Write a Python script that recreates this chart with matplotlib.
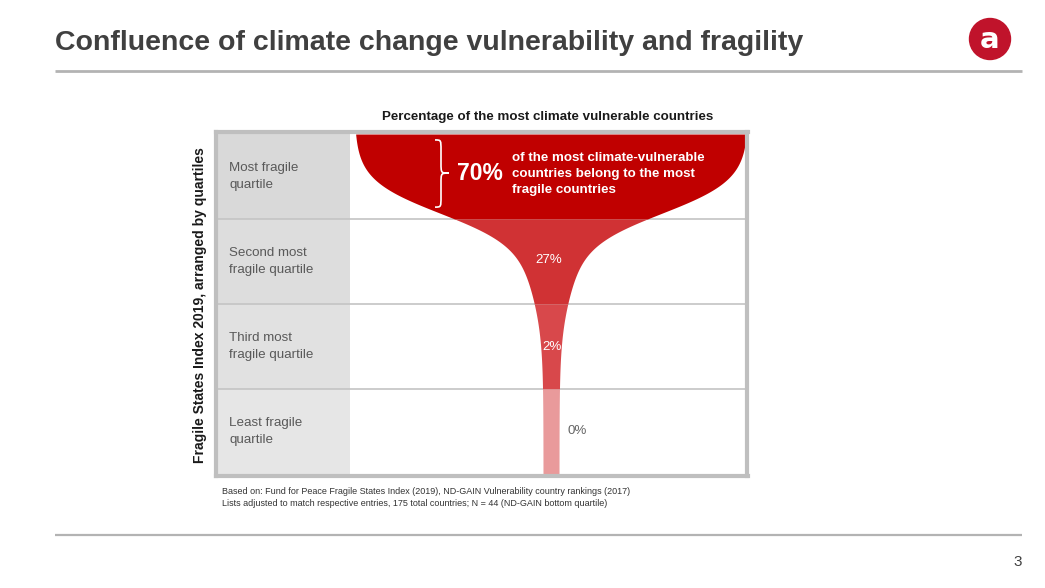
import numpy as np
import matplotlib
matplotlib.use("Agg")
import matplotlib.pyplot as plt
from matplotlib.patches import Circle, PathPatch
from matplotlib.path import Path

plt.rcParams['font.family'] = ['Liberation Sans', 'DejaVu Sans']

# ---------------- data ----------------
categories = ["Most fragile\nquartile", "Second most\nfragile quartile",
              "Third most\nfragile quartile", "Least fragile\nquartile"]
values = [70, 27, 2, 0]
callout_text = "of the most climate-vulnerable\ncountries belong to the most\nfragile countries"
title = "Confluence of climate change vulnerability and fragility"
chart_title = "Percentage of the most climate vulnerable countries"
y_label = "Fragile States Index 2019, arranged by quartiles"
footnote = ("Based on: Fund for Peace Fragile States Index (2019), ND-GAIN Vulnerability country rankings (2017)\n"
            "Lists adjusted to match respective entries, 175 total countries; N = 44 (ND-GAIN bottom quartile)")
page_number = "3"

# ---------------- styles ----------------
band_colors = ["#c00000", "#d03234", "#d8484b", "#e99a9b"]
label_bg = ["#d9d9d9", "#dddddd", "#e1e1e1", "#e6e6e6"]
W, H = 1045, 588
fig = plt.figure(figsize=(W / 100, H / 100), dpi=100)
fig.patch.set_facecolor("white")

# background axes in pixel coordinates for slide decorations
bg = fig.add_axes([0, 0, 1, 1])
bg.set_xlim(0, W)
bg.set_ylim(H, 0)
bg.axis("off")

bg.text(55, 43, title, fontsize=20.5, fontweight="bold", color="#404040",
        ha="left", va="center")
bg.plot([55, 1022], [71, 71], color="#b3b3b3", lw=2, solid_capstyle="butt")
bg.plot([55, 1022], [535, 535], color="#b3b3b3", lw=1.6, solid_capstyle="butt")
bg.add_patch(Circle((990, 39), 20.5, color="#c0132b"))
bg.text(990, 40, "a", fontsize=21, color="white", fontweight="bold",
        family="DejaVu Sans", ha="center", va="center")
bg.text(1018, 562, page_number, fontsize=11, color="#404040", ha="center", va="center")
bg.text(548, 117, chart_title, fontsize=9.6, fontweight="bold", color="#1a1a1a",
        ha="center", va="center")
bg.text(200, 305, y_label, fontsize=10, fontweight="bold", color="#1a1a1a",
        rotation=90, ha="center", va="center")
bg.text(222, 497.5, footnote, fontsize=6.5, color="#333333", ha="left", va="center",
        linespacing=1.45)

# chart axes: x in pixels relative to the funnel axis, y in quartile rows
cx = 551.0
row_px = 85.0
top_px, left_px, right_px, bot_px = 132.0, 215.5, 747.5, 476.0
ax = fig.add_axes([left_px / W, (H - bot_px) / H, (right_px - left_px) / W, (bot_px - top_px) / H])
ax.set_xlim(left_px - cx, right_px - cx)
ax.set_ylim((bot_px - 134) / row_px, (top_px - 134) / row_px)
ax.set_xticks([])
ax.set_yticks([])
for s in ax.spines.values():
    s.set_color("#bfbfbf")
    s.set_linewidth(3)
    s.set_zorder(10)

n = len(categories)
rows = np.arange(n)
col_right = 350 - cx
ax.barh(rows + 0.5, col_right - (left_px - cx), left=left_px - cx, height=1.0,
        color=label_bg, zorder=1)
for r in rows[1:]:
    ax.axhline(r, color="#c4c4c4", lw=1.2, zorder=2)


def half_width(y):
    return 8 + 170 / (1 + np.exp((y - 0.93) / 0.2)) + 19 / (1 + np.exp((y - 1.9) / 0.3))


for i in rows:
    yy = np.linspace(i, i + 1, 200)
    w = half_width(yy)
    ax.fill_betweenx(yy, -w, w, color=band_colors[i], lw=0, zorder=3)

for i, (cat, v) in enumerate(zip(categories, values)):
    ax.text(229 - cx, i + 0.5, cat, fontsize=9.6, color="#595959", ha="left",
            va="center", linespacing=1.45, zorder=5)

# value labels
ax.text(480 - cx, 0.47, f"{values[0]}%", fontsize=16.5, fontweight="bold", color="white",
        ha="center", va="center", zorder=5)
ax.text(512 - cx, 0.47, callout_text, fontsize=9.6, fontweight="bold", color="white",
        ha="left", va="center", linespacing=1.45, zorder=5)
ax.text(-2, 1.48, f"{values[1]}%", fontsize=9.6, color="white", ha="center", va="center", zorder=5)
ax.text(1.5, 2.5, f"{values[2]}%", fontsize=9.6, color="white", ha="center", va="center", zorder=5)
ax.text(26.5, 3.5, f"{values[3]}%", fontsize=9.6, color="#666666", ha="center", va="center", zorder=5)

# brace next to the 70% callout
xl, xm, xr = 435 - cx, 441 - cx, 449 - cx
yt, ym, yb = 0.07, 0.46, 0.86
r = 0.12
verts = [(xl, yt), (xm, yt), (xm, yt), (xm, yt + r),
         (xm, ym - r),
         (xm, ym), (xm, ym), (xr, ym),
         (xm, ym), (xm, ym), (xm, ym + r),
         (xm, yb - r),
         (xm, yb), (xm, yb), (xl, yb)]
codes = [Path.MOVETO, Path.CURVE4, Path.CURVE4, Path.CURVE4,
         Path.LINETO,
         Path.CURVE4, Path.CURVE4, Path.CURVE4,
         Path.CURVE4, Path.CURVE4, Path.CURVE4,
         Path.LINETO,
         Path.CURVE4, Path.CURVE4, Path.CURVE4]
ax.add_patch(PathPatch(Path(verts, codes), fill=False, edgecolor="white", lw=1.2, zorder=5))

fig.savefig("out.png", dpi=100, facecolor="white")
